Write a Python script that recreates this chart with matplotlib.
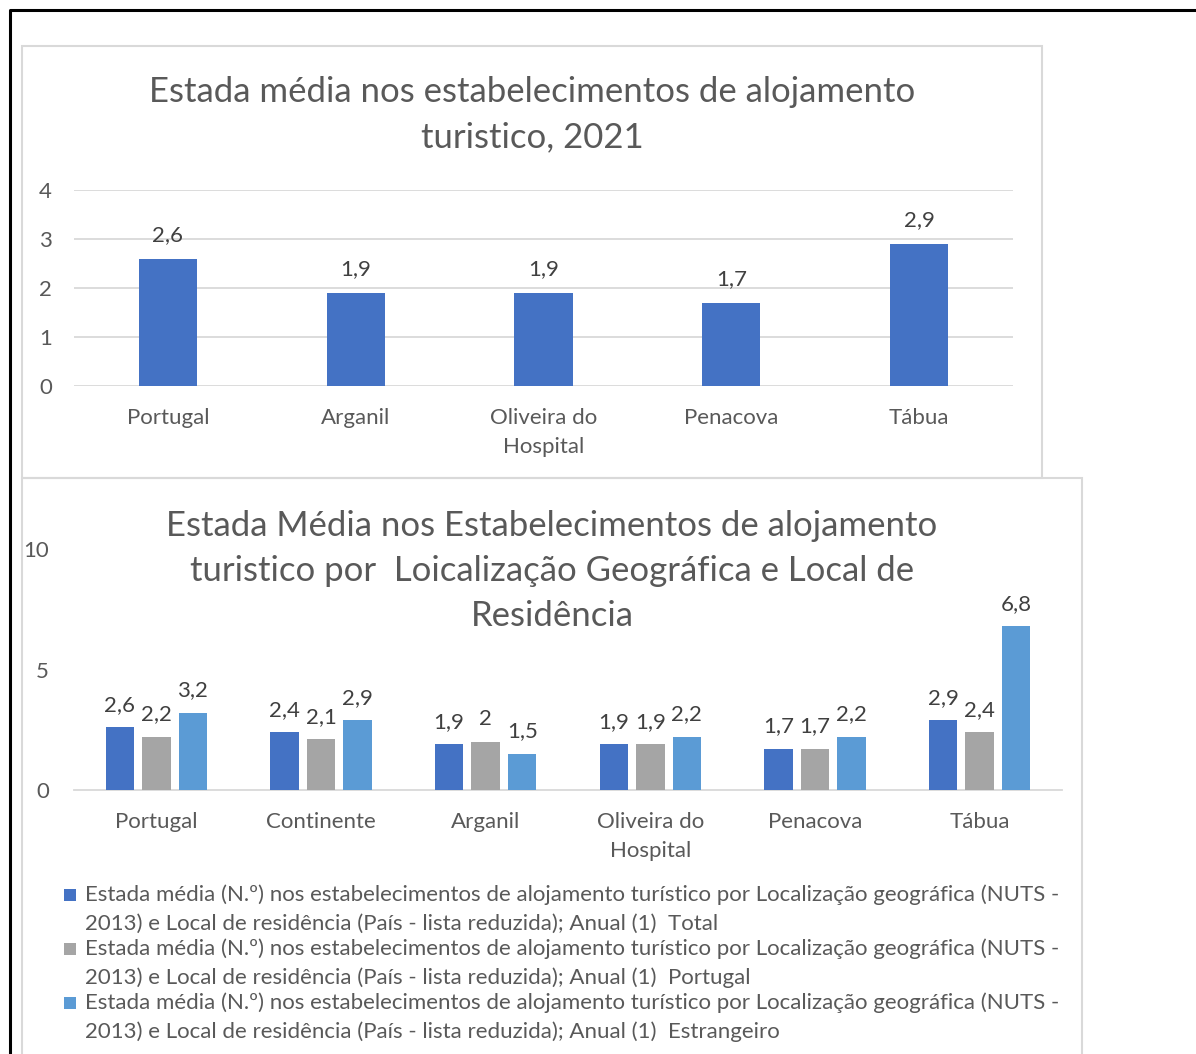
import matplotlib
matplotlib.use("Agg")
import matplotlib.pyplot as plt
from matplotlib.patches import Rectangle
from matplotlib.lines import Line2D
import numpy as np

plt.rcParams['font.family'] = ['Lato', 'DejaVu Sans']

W, H = 1196, 1054

# top chart: average stay, 2021
top_title = "Estada média nos estabelecimentos de alojamento\nturistico, 2021"
top_places = ["Portugal", "Arganil", "Oliveira do\nHospital", "Penacova", "Tábua"]
top_values = [2.6, 1.9, 1.9, 1.7, 2.9]

# bottom chart: average stay by place and residence
bottom_title = ("Estada Média nos Estabelecimentos de alojamento\n"
                "turistico por  Loicalização Geográfica e Local de\nResidência")
bottom_places = ["Portugal", "Continente", "Arganil", "Oliveira do\nHospital",
                 "Penacova", "Tábua"]
total_values = [2.6, 2.4, 1.9, 1.9, 1.7, 2.9]
portugal_values = [2.2, 2.1, 2.0, 1.9, 1.7, 2.4]
foreign_values = [3.2, 2.9, 1.5, 2.2, 2.2, 6.8]

series_prefix = ("Estada média (N.º) nos estabelecimentos de alojamento turístico por "
                 "Localização geográfica (NUTS -\n2013) e Local de residência "
                 "(País - lista reduzida); Anual (1)  ")
series_names = [series_prefix + s for s in ["Total", "Portugal", "Estrangeiro"]]
series_colors = ["#4472C4", "#A5A5A5", "#5B9BD5"]

TXT = "#595959"
LBL = "#404040"
GRID = "#d9d9d9"
FS = 16
TFS = 25


def fmt(v):
    return f"{v:g}".replace(".", ",")


def axes_px(fig, left, top, right, bottom):
    return fig.add_axes([left / W, 1 - bottom / H, (right - left) / W, (bottom - top) / H])


fig = plt.figure(figsize=(W / 100, H / 100), dpi=100)

# panel borders
fig.patches.append(Rectangle((22 / W, 1 - 478 / H), 1020 / W, 432 / H,
                             transform=fig.transFigure, fill=False, ec=GRID, lw=1.5))
fig.patches.append(Rectangle((22 / W, 1 - 1070 / H), 1060 / W, 592 / H,
                             transform=fig.transFigure, fill=False, ec=GRID, lw=1.5))
# outer frame
fig.lines.append(Line2D([10 / W, 10 / W, 1], [0, 1 - 10 / H, 1 - 10 / H],
                        transform=fig.transFigure, color="black", lw=2.2))

# ---- top chart
ax1 = axes_px(fig, 74, 190, 1013, 386)
x1 = np.arange(len(top_places))
bars = ax1.bar(x1, top_values, width=0.31, color="#4472C4", zorder=3)
ax1.bar_label(bars, labels=[fmt(v) for v in top_values], padding=10,
              fontsize=FS, color=LBL)
ax1.set_xlim(-0.5, len(top_places) - 0.5)
ax1.set_ylim(0, 4)
ax1.set_yticks(range(5))
ax1.set_xticks(x1)
ax1.set_xticklabels(top_places, linespacing=1.55)
ax1.yaxis.grid(True, color=GRID, lw=1.3)
ax1.set_axisbelow(True)
for s in ax1.spines.values():
    s.set_visible(False)
ax1.tick_params(axis="y", length=0, pad=16, labelsize=FS, labelcolor=TXT)
ax1.tick_params(axis="x", length=0, pad=16, labelsize=FS, labelcolor=TXT)
fig.text(532 / W, 1 - 115 / H, top_title, ha="center", va="center",
         fontsize=TFS, color=TXT, linespacing=1.5)

# ---- bottom chart
ax2 = axes_px(fig, 74, 549, 1062, 790)
x2 = np.arange(len(bottom_places))
offsets = [-0.222, 0.0, 0.222]
for vals, col, off in zip([total_values, portugal_values, foreign_values],
                          series_colors, offsets):
    b = ax2.bar(x2 + off, vals, width=0.173, color=col, zorder=3)
    ax2.bar_label(b, labels=[fmt(v) for v in vals], padding=9,
                  fontsize=FS, color=LBL)
ax2.set_xlim(-0.5, len(bottom_places) - 0.5)
ax2.set_ylim(0, 10)
ax2.set_yticks([0, 5, 10])
ax2.set_xticks(x2)
ax2.set_xticklabels(bottom_places, linespacing=1.55)
for name, s in ax2.spines.items():
    s.set_visible(name == "bottom")
ax2.spines["bottom"].set_color(GRID)
ax2.spines["bottom"].set_linewidth(1.3)
ax2.tick_params(axis="y", length=0, pad=18, labelsize=FS, labelcolor=TXT)
ax2.tick_params(axis="x", length=0, pad=16, labelsize=FS, labelcolor=TXT)
fig.text(552 / W, 1 - 571 / H, bottom_title, ha="center", va="center",
         fontsize=TFS, color=TXT, linespacing=1.5)

# legend, one text per line so the marker sits on the first line
for i, (name, col) in enumerate(zip(series_names, series_colors)):
    y0 = 895 + i * 54
    fig.patches.append(Rectangle((64 / W, 1 - (y0 + 6) / H), 12 / W, 12 / H,
                                 transform=fig.transFigure, color=col, lw=0))
    for j, line in enumerate(name.split("\n")):
        fig.text(85 / W, 1 - (y0 + j * 29) / H, line, ha="left", va="center",
                 fontsize=FS, color=TXT)

fig.savefig("out.png", dpi=100)
